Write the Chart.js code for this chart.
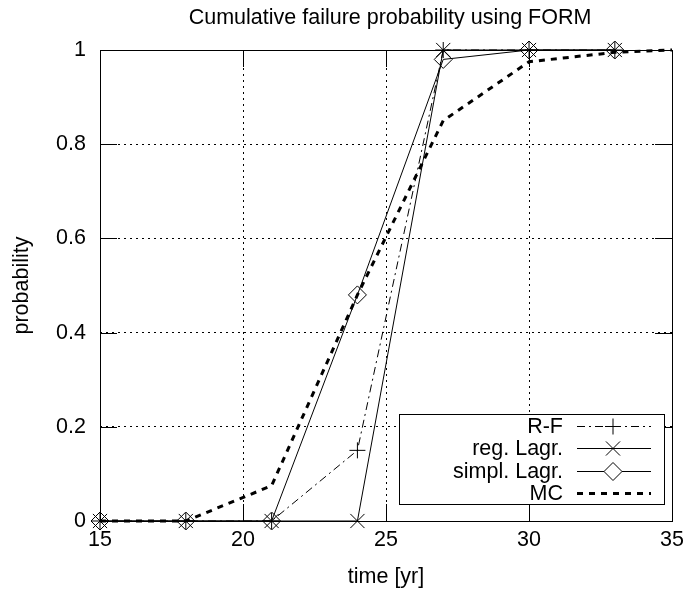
<!DOCTYPE html>
<html>
<head>
<meta charset="utf-8">
<script src="https://cdn.jsdelivr.net/npm/chart.js@4/dist/chart.umd.min.js"></script>
<style>
  html, body { margin: 0; padding: 0; background: #fff; }
  #wrap { width: 690px; height: 592px; }
</style>
</head>
<body>
<div id="wrap"><canvas id="chart" width="690" height="592"></canvas></div>
<script>
// values
const time = [15, 18, 21, 24, 27, 30, 33];
const rfValues = [0, 0, 0, 0.15, 1, 1, 1];
const regLagrValues = [0, 0, 0, 0, 1, 1, 1];
const simplLagrValues = [0, 0, 0, 0.48, 0.98, 1, 1];
const mcTime = [15, 18, 21, 24, 27, 30, 33, 35];
const mcValues = [0, 0, 0.075, 0.48, 0.85, 0.975, 0.995, 1];
const xTicks = [15, 20, 25, 30, 35];
const yTicks = [0, 0.2, 0.4, 0.6, 0.8, 1];

const FONT = '"Liberation Sans", Arial, Helvetica, sans-serif';
const FSIZE = 21.5;
Chart.defaults.font.family = FONT;
Chart.defaults.font.size = FSIZE;
Chart.defaults.color = '#000';

const toPoints = (xs, ys) => xs.map((x, i) => ({ x: x, y: ys[i] }));

const series = [
  { label: 'R-F', data: toPoints(time, rfValues), dash: [8, 4, 2, 4], width: 1, point: 'cross', radius: 8 },
  { label: 'reg. Lagr.', data: toPoints(time, regLagrValues), dash: [], width: 1, point: 'crossRot', radius: 10 },
  { label: 'simpl. Lagr.', data: toPoints(time, simplLagrValues), dash: [], width: 1, point: 'rectRot', radius: 9 },
  { label: 'MC', data: toPoints(mcTime, mcValues), dash: [6, 6], width: 3, point: false, radius: 0 }
];

// gnuplot-like frame, inward ticks, titles and legend
const framePlugin = {
  id: 'frame',
  afterDatasetsDraw(chart) {
    const ctx = chart.ctx;
    const area = chart.chartArea;
    const xs = chart.scales.x, ys = chart.scales.y;
    const tick = 17;
    ctx.save();
    ctx.strokeStyle = '#000';
    ctx.lineWidth = 1;
    ctx.setLineDash([]);
    ctx.beginPath();
    xTicks.forEach(v => {
      const px = Math.round(xs.getPixelForValue(v)) + 0.5;
      ctx.moveTo(px, area.bottom); ctx.lineTo(px, area.bottom - tick);
      ctx.moveTo(px, area.top); ctx.lineTo(px, area.top + tick);
    });
    yTicks.forEach(v => {
      const py = Math.round(ys.getPixelForValue(v)) + 0.5;
      ctx.moveTo(area.left, py); ctx.lineTo(area.left + tick, py);
      ctx.moveTo(area.right, py); ctx.lineTo(area.right - tick, py);
    });
    ctx.stroke();
    ctx.strokeRect(Math.round(area.left) + 0.5, Math.round(area.top) + 0.5,
      Math.round(area.right - area.left), Math.round(area.bottom - area.top));

    // legend
    const box = { left: 399, top: 414, right: 664, bottom: 504 };
    ctx.fillStyle = '#fff';
    ctx.fillRect(box.left, box.top, box.right - box.left, box.bottom - box.top);
    ctx.strokeRect(box.left + 0.5, box.top + 0.5, box.right - box.left, box.bottom - box.top);
    ctx.font = FSIZE + 'px ' + FONT;
    ctx.textAlign = 'right';
    ctx.textBaseline = 'middle';
    series.forEach((s, i) => {
      const y = Math.round(426 + i * 22.4) + 0.5;
      ctx.fillStyle = '#000';
      ctx.fillText(s.label, 563, y + 1);
      ctx.beginPath();
      ctx.lineWidth = s.width;
      ctx.setLineDash(s.dash);
      ctx.moveTo(577, y);
      ctx.lineTo(651, y);
      ctx.stroke();
      ctx.setLineDash([]);
      if (s.point) {
        ctx.lineWidth = 1;
        ctx.fillStyle = '#fff';
        Chart.helpers.drawPoint(ctx, { pointStyle: s.point, radius: s.radius, borderWidth: 1 }, 613, y);
      }
    });
    ctx.restore();
  },
  afterDraw(chart) {
    const ctx = chart.ctx;
    const area = chart.chartArea;
    const cx = (area.left + area.right) / 2;
    ctx.save();
    ctx.fillStyle = '#000';
    ctx.font = FSIZE + 'px ' + FONT;
    ctx.textAlign = 'center';
    ctx.textBaseline = 'middle';
    ctx.fillText('Cumulative failure probability using FORM', cx + 4, 18);
    ctx.fillText('time [yr]', cx, 577);
    ctx.translate(22, (area.top + area.bottom) / 2);
    ctx.rotate(-Math.PI / 2);
    ctx.fillText('probability', 0, 0);
    ctx.restore();
  }
};

new Chart(document.getElementById('chart'), {
  type: 'line',
  data: {
    datasets: series.map(s => ({
      label: s.label,
      data: s.data,
      borderColor: '#000',
      borderWidth: s.width,
      borderDash: s.dash,
      backgroundColor: 'rgba(0,0,0,0)',
      pointStyle: s.point,
      pointRadius: s.radius,
      pointBorderColor: '#000',
      pointBorderWidth: 1,
      pointBackgroundColor: 'rgba(0,0,0,0)',
      tension: 0,
      fill: false,
      clip: false
    })).reverse()
  },
  options: {
    responsive: false,
    animation: false,
    events: [],
    layout: { padding: { left: 0, top: 50, right: 11, bottom: 0 } },
    plugins: { legend: { display: false }, tooltip: { enabled: false }, title: { display: false } },
    scales: {
      x: {
        type: 'linear',
        min: 15, max: 35,
        afterBuildTicks: axis => { axis.ticks = xTicks.map(v => ({ value: v })); },
        afterFit: axis => { axis.height = 71; },
        ticks: { padding: 6, maxRotation: 0, callback: v => String(v) },
        grid: { color: '#000', lineWidth: 1, drawTicks: false },
        border: { display: false, dash: [2, 4] }
      },
      y: {
        min: 0, max: 1,
        afterBuildTicks: axis => { axis.ticks = yTicks.map(v => ({ value: v })); },
        afterFit: axis => { axis.width = 100; },
        ticks: { padding: 14, callback: v => String(Math.round(v * 10) / 10) },
        grid: { color: '#000', lineWidth: 1, drawTicks: false },
        border: { display: false, dash: [2, 4] }
      }
    }
  },
  plugins: [framePlugin]
});
</script>
</body>
</html>
